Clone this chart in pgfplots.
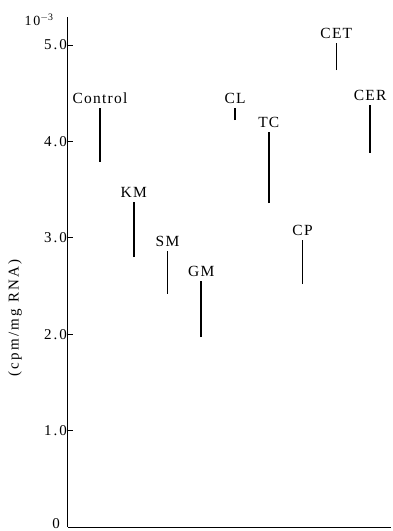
\documentclass[border=0pt]{standalone}
\usepackage{pgfplots}
\pgfplotsset{compat=1.18}
\usepackage{fontspec}
\setmainfont{Liberation Serif}
\newfontfamily\lab[LetterSpace=8]{Liberation Serif}
\newfontfamily\tlab[LetterSpace=13]{Liberation Serif}
\newfontfamily\ylab[LetterSpace=15]{Liberation Serif}
\tikzset{lbl/.style={anchor=south, inner sep=1pt, yshift=2.5pt, font=\fontsize{15.5}{15.5}\selectfont\lab}}
\begin{document}
\begin{tikzpicture}
\begin{axis}[
  name=ax, at={(0,0)}, anchor=origin,
  scale only axis, width=323pt, height=510pt,
  xmin=0.052, xmax=9.62, ymin=0, ymax=5.29,
  axis lines*=left,
  axis line style={line width=1pt},
  xtick=\empty,
  ytick={1,2,3,4,5},
  yticklabels={1.0,2.0,3.0,4.0,5.0},
  ytick pos=left,
  tick align=inside,
  major tick length=5pt,
  tick style={line width=0.8pt, black},
  /pgf/number format/assume math mode=true,
  yticklabel style={font=\fontsize{15}{15}\selectfont\tlab, inner sep=1pt},
  clip=false,
]
\addplot[black, line width=1.6pt] coordinates {(1,3.79) (1,4.35)} node[pos=1, lbl] {Control};
\addplot[black, line width=1.6pt] coordinates {(2,2.80) (2,3.37)} node[pos=1, lbl] {KM};
\addplot[black, line width=1.6pt] coordinates {(3,2.42) (3,2.86)} node[pos=1, lbl] {SM};
\addplot[black, line width=1.6pt] coordinates {(4,1.97) (4,2.55)} node[pos=1, lbl] {GM};
\addplot[black, line width=1.6pt] coordinates {(5,4.22) (5,4.35)} node[pos=1, lbl] {CL};
\addplot[black, line width=1.6pt] coordinates {(6,3.36) (6,4.10)} node[pos=1, lbl] {TC};
\addplot[black, line width=1.6pt] coordinates {(7,2.52) (7,2.98)} node[pos=1, lbl] {CP};
\addplot[black, line width=1.6pt] coordinates {(8,4.74) (8,5.02)} node[pos=1, lbl] {CET};
\addplot[black, line width=1.6pt] coordinates {(9,3.88) (9,4.38)} node[pos=1, lbl] {CER};
\end{axis}
\node[anchor=south east, inner sep=0pt, font=\fontsize{15}{15}\selectfont\tlab] at (-8pt,-2pt) {0};
\node[font=\fontsize{14}{14}\selectfont\tlab] at (-29pt,507pt) {10\textsuperscript{$-$3}};
\node[rotate=90, font=\fontsize{15}{15}\selectfont\ylab] at (-53pt,209pt) {(cpm/mg RNA)};
\path[use as bounding box] (-68pt,-4pt) rectangle (324pt,527pt);
\end{tikzpicture}
\end{document}
